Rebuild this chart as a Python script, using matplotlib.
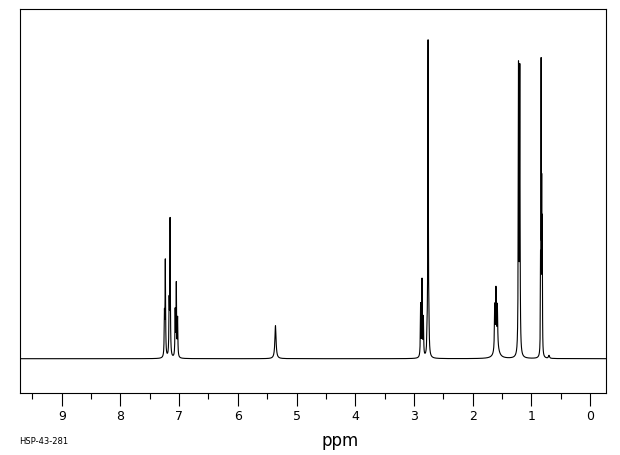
import numpy as np
import matplotlib.pyplot as plt

# peak list: position (ppm), height, half width (ppm)
peak_ppm = [7.250, 7.235, 7.170, 7.154, 7.067, 7.048, 7.026,
            5.359,
            2.887, 2.863, 2.840, 2.776, 2.760, 2.744,
            1.625, 1.604, 1.580, 1.590,
            1.220, 1.198,
            0.845, 0.835, 0.825, 0.815, 0.700]
peak_height = [40, 95, 50, 136, 45, 72, 38,
               33,
               52, 76, 38, 14, 316, 14,
               44, 56, 40, 12,
               284, 281,
               80, 280, 150, 125, 3]
peak_width = [0.005, 0.005, 0.005, 0.005, 0.005, 0.005, 0.005,
              0.012,
              0.005, 0.005, 0.005, 0.005, 0.005, 0.005,
              0.006, 0.006, 0.006, 0.04,
              0.005, 0.005,
              0.003, 0.003, 0.003, 0.003, 0.01]

ppm = np.linspace(-0.27, 9.71, 30000)
intensity = np.zeros_like(ppm)
for p, h, w in zip(peak_ppm, peak_height, peak_width):
    intensity += h * w**2 / ((ppm - p)**2 + w**2)

fig = plt.figure(figsize=(6.2, 4.55), dpi=100)
ax = fig.add_axes([20 / 620, 1 - 393 / 455, 586 / 620, 384 / 455])
ax.plot(ppm, intensity, color='black', lw=0.8)

ax.set_xlim(9.71, -0.27)
ax.set_ylim(-34.3, 349.7)
ax.set_xticks(range(0, 10))
ax.set_xticks(np.arange(0.5, 9.6, 1.0), minor=True)
ax.set_yticks([])
ax.tick_params(axis='x', which='major', direction='out', length=9.5, width=0.8,
               pad=3, labelsize=9)
ax.tick_params(axis='x', which='minor', direction='out', length=4.5, width=0.8)
for s in ax.spines.values():
    s.set_linewidth(0.8)

fig.text(340 / 620, 1 - 441 / 455, 'ppm', ha='center', va='center',
         fontsize=12)
fig.text(19 / 620, 1 - 442 / 455, 'HSP-43-281', ha='left', va='center',
         fontsize=6)

fig.savefig('out.png', dpi=100)
